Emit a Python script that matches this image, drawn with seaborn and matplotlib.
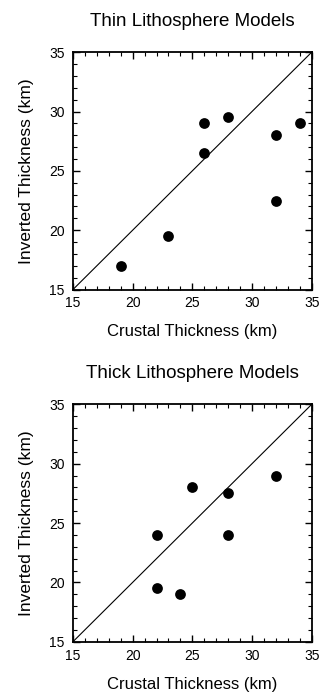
import matplotlib
matplotlib.use("Agg")
import matplotlib.pyplot as plt
import seaborn as sns
import pandas as pd
from matplotlib.ticker import MultipleLocator

thin_crustal = [19, 23, 26, 26, 28, 32, 32, 34]
thin_inverted = [17, 19.5, 26.5, 29, 29.5, 28, 22.5, 29]
thick_crustal = [22, 22, 24, 25, 28, 28, 32]
thick_inverted = [24, 19.5, 19, 28, 27.5, 24, 29]
titles = ["Thin Lithosphere Models", "Thick Lithosphere Models"]
xlabel = "Crustal Thickness (km)"
ylabel = "Inverted Thickness (km)"
ticks = [15, 20, 25, 30, 35]

sns.set_theme(style="white")
plt.rcParams['font.family'] = ['Liberation Sans', 'DejaVu Sans']

fig = plt.figure(figsize=(3.2, 6.96), dpi=100)
ax1 = fig.add_axes([0.228, 0.584, 0.746, 0.341])
ax2 = fig.add_axes([0.228, 0.078, 0.746, 0.341])

datasets = [(thin_crustal, thin_inverted), (thick_crustal, thick_inverted)]
for ax, (xs, ys), title in zip([ax1, ax2], datasets, titles):
    df = pd.DataFrame({"x": xs, "y": ys})
    sns.lineplot(x=[15, 35], y=[15, 35], ax=ax, color="black", linewidth=0.8)
    sns.scatterplot(data=df, x="x", y="y", ax=ax, color="black", s=60,
                    edgecolor="black", linewidth=0, zorder=3)
    ax.set_xlim(15, 35)
    ax.set_ylim(15, 35)
    ax.set_xticks(ticks)
    ax.set_yticks(ticks)
    ax.xaxis.set_minor_locator(MultipleLocator(1))
    ax.yaxis.set_minor_locator(MultipleLocator(1))
    ax.tick_params(which="both", direction="in", top=True, right=True,
                   bottom=True, left=True, colors="black", labelsize=10)
    ax.tick_params(axis="x", pad=5)
    ax.tick_params(axis="y", pad=6)
    ax.tick_params(which="major", length=5, width=1)
    ax.tick_params(which="minor", length=3, width=0.8)
    for sp in ax.spines.values():
        sp.set_color("black")
        sp.set_linewidth(1.3)
    ax.set_title(title, fontsize=13.5, pad=19, color="black")
    ax.set_xlabel(xlabel, fontsize=12, labelpad=10, color="black")
    ax.set_ylabel(ylabel, fontsize=12.5, labelpad=11, color="black")

fig.savefig("out.png", dpi=100)
